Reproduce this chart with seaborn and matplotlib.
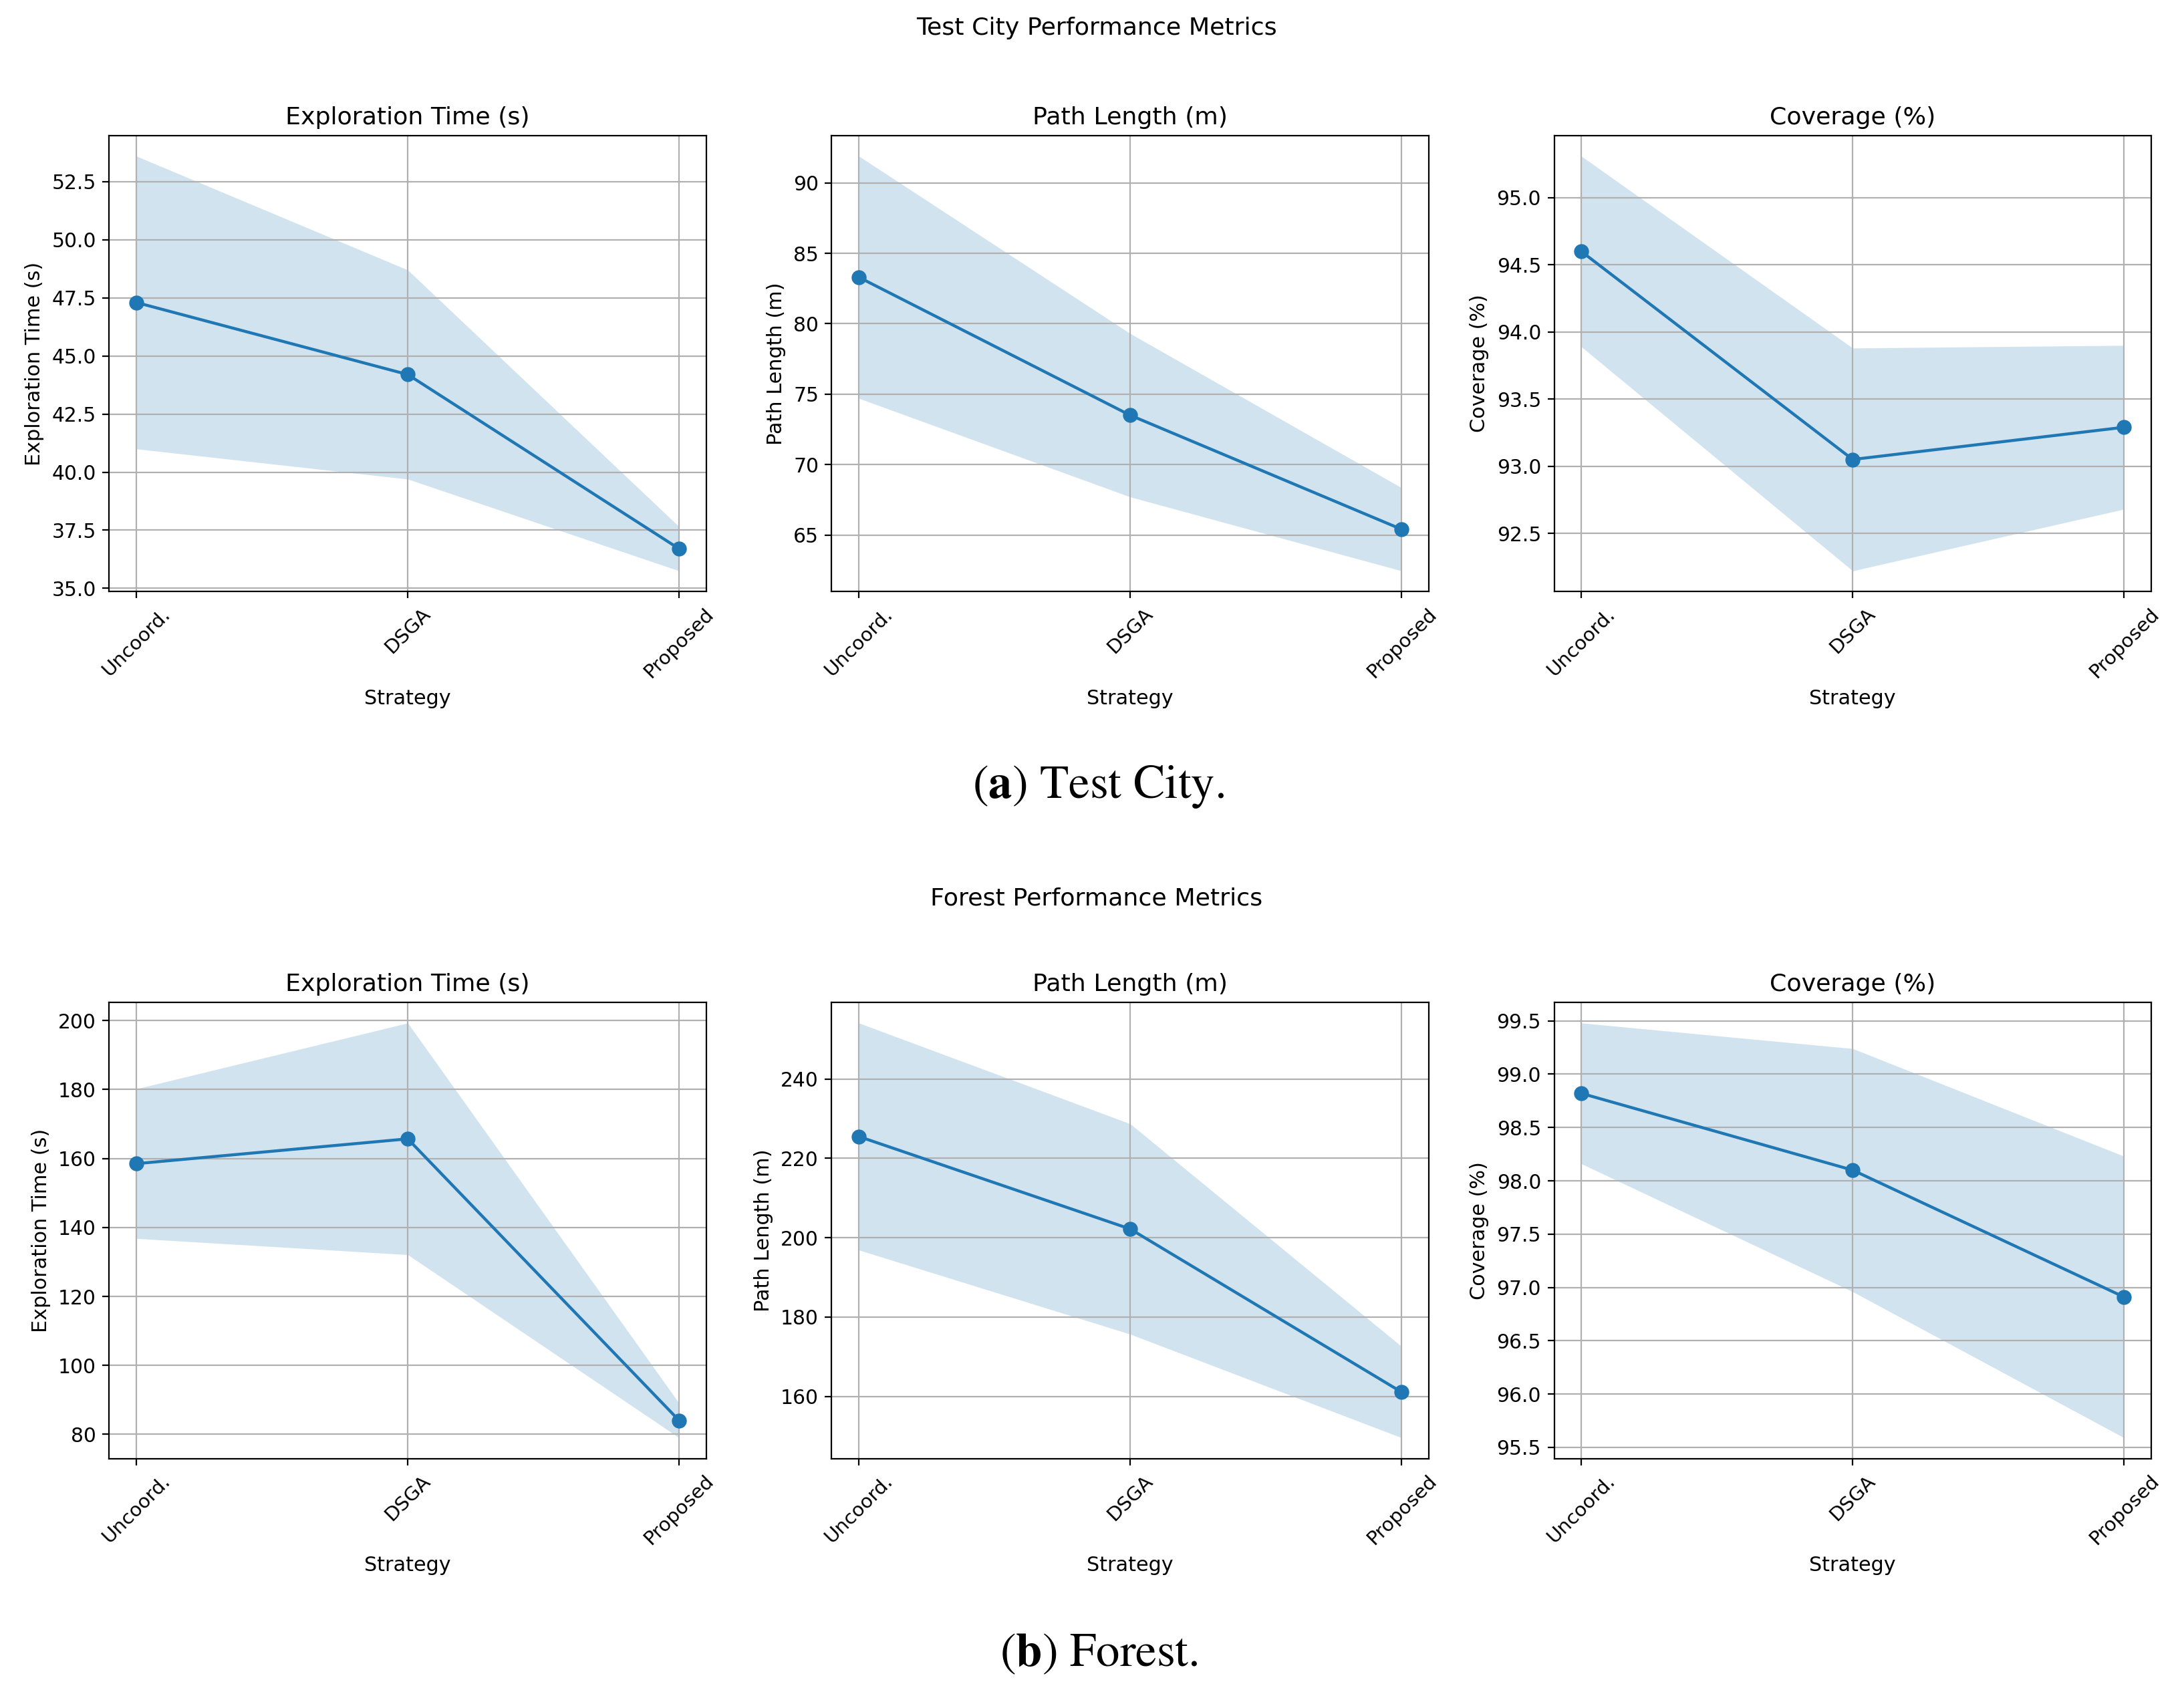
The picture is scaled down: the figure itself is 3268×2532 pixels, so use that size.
import matplotlib
matplotlib.use("Agg")
import matplotlib.pyplot as plt
import seaborn as sns

plt.rcParams["mathtext.fontset"] = "stix"

strategies = ["Uncoord.", "DSGA", "Proposed"]
metric_titles = ["Exploration Time (s)", "Path Length (m)", "Coverage (%)"]

# Test City: mean and std per strategy
city_time_mean = [47.3, 44.2, 36.7]
city_time_std = [6.3, 4.5, 0.95]
city_path_mean = [83.3, 73.5, 65.4]
city_path_std = [8.6, 5.8, 2.95]
city_cov_mean = [94.60, 93.05, 93.29]
city_cov_std = [0.71, 0.83, 0.61]

# Forest
forest_time_mean = [158.5, 165.7, 84.0]
forest_time_std = [21.7, 33.6, 5.0]
forest_path_mean = [225.5, 202.2, 161.1]
forest_path_std = [28.6, 26.5, 11.5]
forest_cov_mean = [98.82, 98.10, 96.91]
forest_cov_std = [0.66, 1.14, 1.32]

city = [(city_time_mean, city_time_std), (city_path_mean, city_path_std), (city_cov_mean, city_cov_std)]
forest = [(forest_time_mean, forest_time_std), (forest_path_mean, forest_path_std), (forest_cov_mean, forest_cov_std)]

color = "#1f77b4"


def draw_panel(ax, mean, std, title):
    lower = [m - s for m, s in zip(mean, std)]
    upper = [m + s for m, s in zip(mean, std)]
    sns.lineplot(x=strategies, y=mean, ax=ax, color=color, marker="o", markersize=7.3,
                 markeredgecolor=color, linewidth=1.6, sort=False)
    ax.fill_between(strategies, lower, upper, color=color, alpha=0.2, linewidth=0)
    ax.set_title(title, fontsize=13.1)
    ax.set_xlabel("Strategy", fontsize=10.9)
    ax.set_ylabel(title, fontsize=10.9)
    ax.grid(True)
    ax.tick_params(axis="y", labelsize=10.7)
    ax.tick_params(axis="x", labelsize=10.5, rotation=45)


fig, axes = plt.subplots(2, 3, figsize=(16.34, 12.66), dpi=200)
plt.subplots_adjust(left=0.05, right=0.985, bottom=0.138, top=0.920, wspace=0.21, hspace=0.9)

for i in range(3):
    draw_panel(axes[0, i], city[i][0], city[i][1], metric_titles[i])
    draw_panel(axes[1, i], forest[i][0], forest[i][1], metric_titles[i])

fig.text(0.502, 0.9835, "Test City Performance Metrics", ha="center", va="center", fontsize=13.1)
fig.text(0.502, 0.469, "Forest Performance Metrics", ha="center", va="center", fontsize=13.1)

fig.text(0.503, 0.535, r"$(\mathbf{a})$ Test City.", ha="center", va="center",
         fontfamily="STIXGeneral", fontsize=25.5)
fig.text(0.503, 0.022, r"$(\mathbf{b})$ Forest.", ha="center", va="center",
         fontfamily="STIXGeneral", fontsize=25.5)

plt.savefig("out.png", dpi=200)
